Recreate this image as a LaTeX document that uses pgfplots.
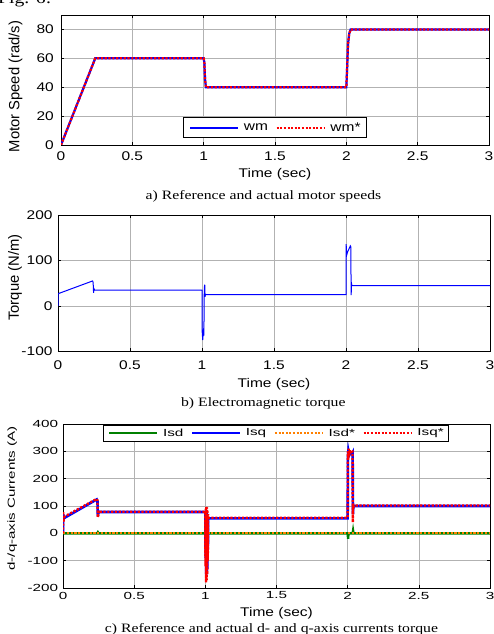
\documentclass[border=0pt]{standalone}
\usepackage{fontspec}
\setmainfont{Liberation Sans}[FakeStretch=1.23]
\newfontfamily\capfont{Liberation Serif}[FakeStretch=1.23]
\newfontfamily\ylabfont{Liberation Sans}
\newfontfamily\smallfont{Liberation Sans}[FakeStretch=1.48]
\usepackage{pgfplots}
\pgfplotsset{compat=1.18}
\newcommand{\fa}{\fontsize{12.6bp}{15bp}\selectfont}
\newcommand{\fs}{\smallfont\fontsize{10.3bp}{12bp}\selectfont}
\newcommand{\fy}{\ylabfont\fontsize{14.8bp}{17bp}\selectfont}
\newcommand{\fcap}{\capfont\fontsize{12.8bp}{15bp}\selectfont}
\pgfplotsset{
 limg/.style={legend image code/.code={\draw[#1] (0bp,0bp) -- (48bp,0bp);}},
 mat/.style={scale only axis, anchor=south west,
  axis line style={black, line width=0.8bp}, tick align=inside,
  major tick length=3bp, tick style={black, line width=0.6bp},
  grid=major, major grid style={gray!60, line width=0.55bp},
  xmin=0, xmax=3, xtick={0,0.5,1,1.5,2,2.5,3},
  xticklabels={0,0.5,1,1.5,2,2.5,3},
  /pgf/number format/assume math mode=true,
  xticklabel style={anchor=center, inner sep=0pt},
  yticklabel style={anchor=east, inner sep=0pt},
  xlabel={Time (sec)},
  legend style={legend columns=-1, draw=black, line width=0.8bp, inner xsep=7bp,
    nodes={inner xsep=0pt, inner ysep=2bp},
    /tikz/every odd column/.append style={column sep=5bp},
    /tikz/every even column/.append style={column sep=8bp}},
}}
\begin{document}
\begin{tikzpicture}
\useasboundingbox (0bp,0bp) rectangle (494bp,634bp);
\node[anchor=base west, inner sep=0pt] at (-2bp,630bp) {\capfont\fontsize{16bp}{18bp}\selectfont Fig. 6:};
% ---------------- a) speed
\begin{axis}[mat, at={(61bp,489bp)}, width=428bp, height=130bp,
  ymin=0, ymax=90, ytick={0,20,40,60,80}, yticklabels={0,20,40,60,80},
  ticklabel style={font=\fa},
  xticklabel style={yshift=-11bp}, yticklabel style={xshift=-7bp},
  xlabel style={font=\fa, at={(axis description cs:0.5,-0.223)}, anchor=center},
  ylabel={Motor Speed (rad/s)},
  ylabel style={font=\fy, at={(axis description cs:-0.106,0.45)}, anchor=center, rotate=0},
  legend style={at={(0.285,0.213)}, anchor=north west, font=\fa, inner ysep=3bp, inner xsep=6bp},
]
\addplot[blue, line width=2.2bp, limg={blue, line width=1.5bp}] coordinates {(0,0) (0.24,60) (1.0,60) (1.005,57) (1.01,45) (1.016,40) (2.0,40) (2.005,52) (2.012,70) (2.02,77) (2.03,80) (3,80)};
\addlegendentry{wm}
\addplot[red, line width=2.2bp, dash pattern=on 2.2bp off 1.6bp, limg={red, line width=1.5bp, dash pattern=on 2bp off 1.6bp}] coordinates {(0,0) (0.24,60) (1.0,60) (1.005,57) (1.01,45) (1.016,40) (2.0,40) (2.005,52) (2.012,70) (2.02,77) (2.03,80) (3,80)};
\addlegendentry{wm*}
\end{axis}
\node[anchor=base] at (263.5bp,434.5bp) {\fcap a) Reference and actual motor speeds};
% ---------------- b) torque
\begin{axis}[mat, at={(58bp,282.5bp)}, width=432bp, height=136.5bp,
  ymin=-100, ymax=200, ytick={-100,0,100,200}, yticklabels={-100,0,100,200},
  ticklabel style={font=\fa},
  xticklabel style={yshift=-13.5bp}, yticklabel style={xshift=-5.3bp},
  xlabel style={font=\fa, at={(axis description cs:0.5,-0.238)}, anchor=center},
  ylabel={Torque (N/m)},
  ylabel style={font=\fy, at={(axis description cs:-0.0995,0.542)}, anchor=center, rotate=0},
]
\addplot[blue, line width=1bp] coordinates {(0,0) (0.0005,27) (0.24,55) (0.244,52) (0.247,29) (0.25,38) (0.255,35) (1.0,35) (1.001,-55) (1.005,-75) (1.009,-58) (1.013,-65) (1.016,40) (1.019,47) (1.021,20) (1.024,26) (1.03,25) (2.0,25) (2.001,136) (2.005,112) (2.01,118) (2.03,132) (2.033,130) (2.036,24) (2.038,50) (2.041,45) (3,45)};
\end{axis}
\node[anchor=base] at (263.3bp,227.3bp) {\fcap b) Electromagnetic torque};
% ---------------- c) currents
\begin{axis}[mat, at={(63bp,46bp)}, width=427bp, height=164bp,
  ymin=-200, ymax=400, ytick={-200,-100,0,100,200,300,400},
  yticklabels={-200,-100,0,100,200,300,400},
  ticklabel style={font=\fs},
  xticklabel style={yshift=-7.5bp}, yticklabel style={xshift=-4.7bp},
  xlabel style={font=\fa, at={(axis description cs:0.5,-0.152)}, anchor=center},
  ylabel={d-/q-axis Currents (A)},
  ylabel style={font=\fs\fontsize{10.2bp}{12bp}\selectfont, at={(axis description cs:-0.119,0.546)}, anchor=center, rotate=0},
  legend style={at={(0.094,0.995)}, anchor=north west, font=\fs, inner ysep=1.5bp, inner xsep=5bp},
]
\addplot[green!50!black, line width=2.4bp, limg={green!50!black, line width=1.5bp}] coordinates {(0,0) (0.24,0) (0.245,4) (0.25,0) (2.0,0) (2.003,-20) (2.006,0) (2.035,0) (2.038,10) (2.041,0) (3,0)};
\addlegendentry{Isd}
\addplot[blue, line width=2.6bp, limg={blue, line width=1.5bp}] coordinates {(0,0) (0.002,70) (0.005,55) (0.237,124) (0.242,118) (0.245,62) (0.25,80) (0.255,78) (1.0,78) (1.002,-90) (1.004,70) (1.006,-150) (1.008,80) (1.01,-150) (1.012,70) (1.014,-130) (1.016,60) (1.018,-60) (1.02,55) (2.0,55) (2.002,280) (2.005,300) (2.01,285) (2.02,295) (2.03,290) (2.035,295) (2.037,70) (2.04,100) (3,100)};
\addlegendentry{Isq}
\addplot[orange, line width=2.2bp, dash pattern=on 2.2bp off 1.6bp, limg={orange, line width=1.5bp, dash pattern=on 2bp off 1.6bp}] coordinates {(0,0) (3,0)};
\addlegendentry{Isd*}
\addplot[red, line width=2.4bp, dash pattern=on 2.2bp off 1.6bp, limg={red, line width=1.5bp, dash pattern=on 2bp off 1.6bp}] coordinates {(0,0) (0.001,80) (0.003,40) (0.006,60) (0.237,126) (0.242,120) (0.245,58) (0.25,82) (0.255,79) (1.0,79) (1.001,-120) (1.003,90) (1.005,-180) (1.007,100) (1.009,-170) (1.011,95) (1.013,-150) (1.015,85) (1.017,-100) (1.019,70) (1.021,50) (1.024,57) (2.0,57) (2.001,300) (2.004,270) (2.007,310) (2.01,285) (2.015,305) (2.02,290) (2.03,305) (2.034,300) (2.036,40) (2.038,110) (2.04,95) (2.045,102) (3,102)};
\addlegendentry{Isq*}
\end{axis}
\node[anchor=base] at (271.5bp,1.5bp) {\fcap c) Reference and actual d- and q-axis currents torque};
\end{tikzpicture}
\end{document}
